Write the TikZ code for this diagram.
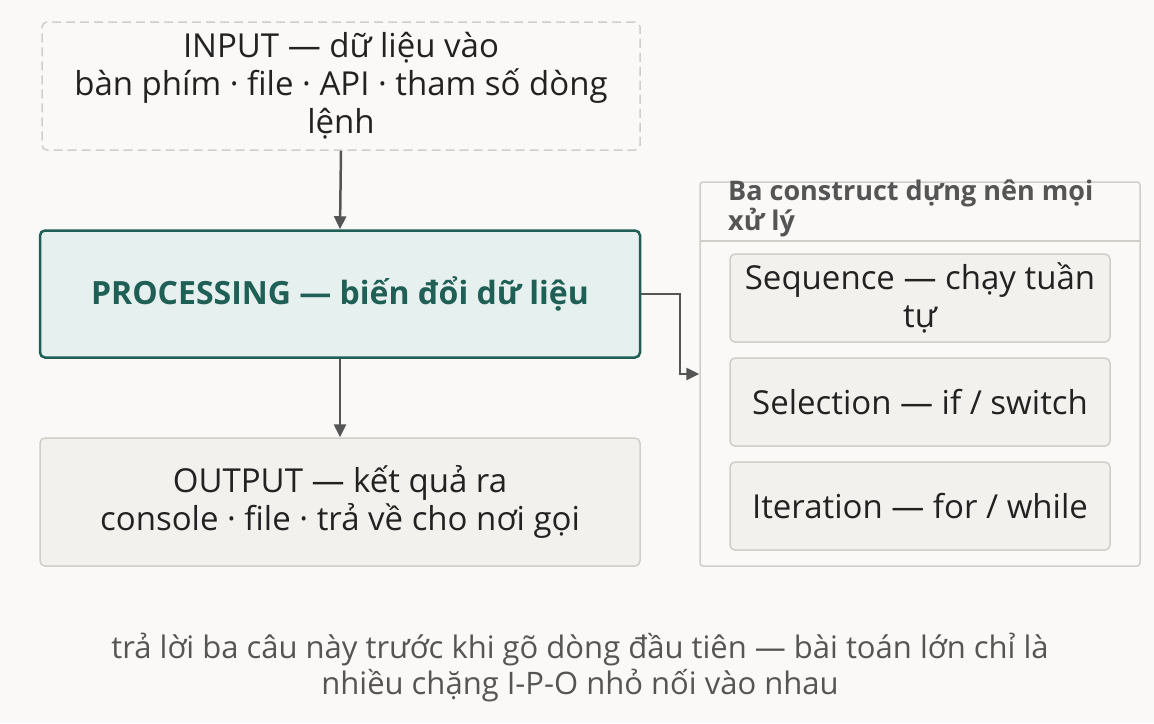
\documentclass[tikz,border=0pt]{standalone}
\usepackage{fontspec}
\setmainfont{Open Sans}
\usetikzlibrary{arrows.meta}
\definecolor{bg}{HTML}{FAF9F7}
\definecolor{teal}{HTML}{1F5F55}
\definecolor{tealfill}{HTML}{E6F0EE}
\definecolor{boxfill}{HTML}{F2F1ED}
\definecolor{boxline}{HTML}{CFCFC9}
\definecolor{txt}{HTML}{222222}
\definecolor{arr}{HTML}{555555}
\tikzset{
 box/.style={draw=boxline,line width=1.5pt,fill=boxfill,rounded corners=5pt,text=txt,align=center,font=\fontsize{33}{38}\selectfont,inner sep=0pt},
 sub/.style={box},
 conn/.style={draw=arr,line width=2.5pt,-{Triangle[length=13pt,width=12pt]}}
}
\begin{document}
\begin{tikzpicture}[x=1pt,y=-1pt]
\fill[bg] (0,0) rectangle (1154,723);
\useasboundingbox (0,0) rectangle (1154,723);
\node[box,draw=boxline,dashed,dash pattern=on 9pt off 5pt,fill=bg,minimum width=598pt,minimum height=128pt] (in) at (341,86) {INPUT — dữ liệu vào\\bàn phím · file · API · tham số dòng\\lệnh};
\node[box,draw=teal,line width=2.5pt,fill=tealfill,text=teal,font=\fontsize{32}{38}\selectfont\bfseries,minimum width=600pt,minimum height=127pt] (proc) at (340,294) {PROCESSING — biến đổi dữ liệu};
\node[box,minimum width=600pt,minimum height=128pt] (out) at (340,502) {OUTPUT — kết quả ra\\console · file · trả về cho nơi gọi};
\node[draw=boxline,line width=1.5pt,fill=bg,rounded corners=3pt,minimum width=440pt,minimum height=384pt,inner sep=0pt] (grp) at (920,374) {};
\draw[boxline,line width=1.5pt] (700,241) -- (1140,241);
\node[anchor=north west,align=left,text=arr,font=\fontsize{27}{30}\selectfont\bfseries,inner sep=0pt] (title) at (728,180) {Ba construct dựng nên mọi\\xử lý};
\node[sub,minimum width=380pt,minimum height=88pt] (s1) at (920,298) {Sequence — chạy tuần\\tự};
\node[sub,minimum width=380pt,minimum height=88pt] (s2) at (920,402) {Selection — if / switch};
\node[sub,minimum width=380pt,minimum height=88pt] (s3) at (920,506) {Iteration — for / while};
\draw[conn] (in.south) -- (proc.north);
\draw[conn] (proc.south) -- (out.north);
\draw[conn] (proc.east) -- (680,294) -- (680,374) -- (grp.west);
\node[align=center,text=arr,font=\fontsize{31}{36}\selectfont,inner sep=0pt] (cap) at (580,668) {trả lời ba câu này trước khi gõ dòng đầu tiên — bài toán lớn chỉ là\\nhiều chặng I-P-O nhỏ nối vào nhau};
\end{tikzpicture}
\end{document}
